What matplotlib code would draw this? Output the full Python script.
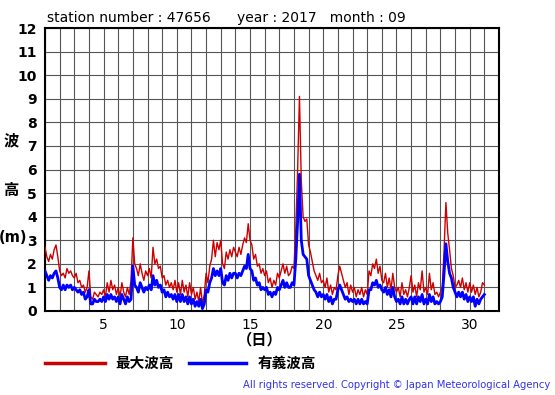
import numpy as np
import matplotlib
matplotlib.use("Agg")
import matplotlib.pyplot as plt
from matplotlib.lines import Line2D

plt.rcParams['font.family'] = ['DejaVu Sans', 'Noto Sans CJK JP']

# 3-hourly values, one row per day (00,03,...,21h), Sept 1..30, plus Oct 1 00h
max_wave = [
    [2.7, 2.3, 2.1, 2.4, 2.2, 2.6, 2.8, 2.3],
    [1.7, 1.5, 1.6, 1.4, 1.8, 1.6, 1.7, 1.5],
    [1.4, 1.6, 1.2, 1.3, 1.0, 1.1, 0.8, 1.0],
    [1.7, 0.6, 0.5, 0.8, 0.7, 0.6, 0.8, 0.7],
    [0.9, 0.6, 1.2, 0.8, 1.3, 0.9, 1.1, 0.7],
    [1.0, 0.6, 1.2, 0.8, 0.6, 1.0, 0.7, 1.3],
    [3.1, 2.0, 1.8, 1.5, 2.0, 1.6, 1.3, 1.7],
    [1.5, 1.8, 1.4, 2.7, 2.0, 2.2, 1.8, 1.9],
    [1.4, 1.5, 1.1, 1.3, 1.0, 1.2, 0.9, 1.3],
    [0.8, 1.2, 0.7, 1.3, 0.8, 1.1, 0.6, 1.2],
    [0.7, 1.0, 0.5, 0.8, 0.4, 1.0, 0.3, 0.7],
    [1.6, 1.2, 1.9, 2.2, 3.0, 2.3, 2.9, 2.6],
    [3.0, 2.0, 1.8, 2.5, 2.2, 2.6, 2.3, 2.7],
    [2.5, 2.3, 2.7, 2.4, 2.8, 3.1, 2.9, 3.7],
    [3.0, 2.8, 2.2, 2.4, 1.9, 2.0, 1.6, 1.8],
    [1.5, 1.7, 1.2, 1.4, 1.0, 1.3, 1.1, 1.6],
    [1.4, 1.7, 2.0, 1.6, 1.9, 1.5, 1.6, 1.9],
    [1.8, 3.5, 6.0, 9.1, 5.5, 4.0, 3.8, 3.9],
    [2.8, 2.5, 2.1, 1.7, 1.5, 1.3, 1.6, 1.2],
    [1.3, 1.0, 1.4, 0.8, 1.1, 0.7, 1.0, 0.9],
    [1.5, 1.9, 1.6, 1.3, 1.0, 1.2, 0.7, 1.1],
    [0.8, 1.0, 0.6, 0.9, 0.7, 1.0, 0.6, 0.9],
    [0.7, 1.7, 1.5, 2.0, 1.8, 2.2, 1.6, 1.9],
    [1.3, 1.2, 1.6, 1.0, 1.4, 0.9, 1.6, 1.0],
    [0.8, 1.0, 0.6, 1.2, 0.7, 0.9, 0.6, 1.0],
    [1.5, 0.8, 1.1, 0.6, 1.2, 0.9, 1.7, 0.8],
    [1.0, 0.7, 1.6, 0.9, 1.2, 0.7, 0.8, 0.6],
    [0.8, 1.0, 2.6, 4.6, 3.3, 2.6, 1.8, 1.5],
    [1.0, 1.1, 1.3, 1.0, 1.4, 0.9, 1.2, 0.8],
    [1.2, 0.8, 1.1, 0.7, 1.0, 0.6, 0.8, 1.2],
    [1.1],
]

sig_wave = [
    [1.7, 1.5, 1.3, 1.5, 1.4, 1.6, 1.7, 1.4],
    [1.0, 0.9, 1.1, 0.9, 1.1, 1.0, 1.1, 0.9],
    [1.0, 0.9, 0.8, 0.9, 0.7, 0.8, 0.5, 0.6],
    [0.9, 0.3, 0.3, 0.5, 0.4, 0.4, 0.5, 0.4],
    [0.6, 0.4, 0.7, 0.5, 0.7, 0.5, 0.6, 0.4],
    [0.6, 0.3, 0.7, 0.5, 0.3, 0.6, 0.4, 0.5],
    [1.9, 1.1, 1.0, 0.8, 1.2, 1.0, 0.8, 1.0],
    [0.9, 1.1, 0.9, 1.5, 1.1, 1.3, 1.0, 1.1],
    [0.8, 0.9, 0.6, 0.8, 0.6, 0.7, 0.5, 0.7],
    [0.4, 0.7, 0.4, 0.7, 0.4, 0.6, 0.3, 0.6],
    [0.3, 0.5, 0.2, 0.4, 0.2, 0.5, 0.1, 0.3],
    [0.9, 0.8, 1.2, 1.4, 1.8, 1.5, 1.7, 1.5],
    [1.8, 1.2, 1.1, 1.5, 1.3, 1.6, 1.4, 1.6],
    [1.6, 1.4, 1.6, 1.5, 1.7, 1.9, 1.8, 2.4],
    [1.8, 1.7, 1.3, 1.4, 1.1, 1.2, 0.9, 1.0],
    [0.9, 1.0, 0.7, 0.8, 0.6, 0.8, 0.7, 1.0],
    [0.9, 1.1, 1.3, 1.0, 1.2, 1.0, 1.0, 1.2],
    [1.1, 2.2, 3.8, 5.8, 3.0, 2.4, 2.3, 2.2],
    [1.5, 1.3, 1.1, 0.9, 0.8, 0.6, 0.8, 0.6],
    [0.7, 0.5, 0.7, 0.4, 0.6, 0.3, 0.5, 0.5],
    [0.9, 1.1, 0.9, 0.7, 0.5, 0.6, 0.4, 0.5],
    [0.4, 0.5, 0.3, 0.5, 0.3, 0.5, 0.3, 0.4],
    [0.3, 0.9, 0.9, 1.2, 1.1, 1.3, 1.0, 1.1],
    [0.9, 0.8, 1.0, 0.7, 0.9, 0.6, 1.0, 0.6],
    [0.4, 0.5, 0.3, 0.6, 0.3, 0.5, 0.3, 0.5],
    [0.6, 0.3, 0.6, 0.3, 0.6, 0.4, 0.7, 0.3],
    [0.5, 0.3, 0.7, 0.4, 0.6, 0.3, 0.4, 0.3],
    [0.4, 0.6, 1.6, 2.85, 2.1, 1.6, 1.4, 1.0],
    [0.8, 0.6, 0.8, 0.6, 0.8, 0.5, 0.7, 0.4],
    [0.6, 0.4, 0.6, 0.2, 0.5, 0.3, 0.5, 0.6],
    [0.7],
]

xtick_vals = [5, 10, 15, 20, 25, 30]
ytick_vals = list(range(0, 13))

ymax = np.concatenate([np.array(d, float) for d in max_wave])
ysig = np.concatenate([np.array(d, float) for d in sig_wave])
x = 1 + np.arange(len(ymax)) / 8.0

fig = plt.figure(figsize=(5.55, 3.95), dpi=100)
ax = fig.add_axes([45 / 555, (395 - 311) / 395, 454 / 555, 283 / 395])

ax.plot(x, ymax, color='#cc0000', lw=1.0, zorder=3)
ax.plot(x, ysig, color='#0000ff', lw=2.0, zorder=4)

ax.set_xlim(1, 32)
ax.set_ylim(0, 12)
ax.set_xticks(range(1, 33), minor=True)
ax.set_xticks(xtick_vals)
ax.set_yticks(ytick_vals)
ax.grid(which='both', axis='x', color='#555555', lw=0.8)
ax.grid(which='major', axis='y', color='#555555', lw=0.8)
ax.tick_params(which='both', length=0)
ax.tick_params(axis='x', labelsize=10, pad=5)
ax.tick_params(axis='y', labelsize=10, pad=6)
for lbl in ax.get_yticklabels():
    lbl.set_fontweight('bold')
for s in ax.spines.values():
    s.set_linewidth(1.5)

fig.text(47 / 555, 1 - 22 / 395, 'station number : 47656      year : 2017   month : 09',
         fontsize=10, ha='left', va='baseline')

jp = ['Noto Sans CJK JP', 'DejaVu Sans']
fig.text(11 / 555, 1 - 140 / 395, '波', fontsize=11, fontweight='bold', family=jp,
         ha='center', va='center')
fig.text(11 / 555, 1 - 190 / 395, '高', fontsize=11, fontweight='bold', family=jp,
         ha='center', va='center')
fig.text(13 / 555, 1 - 238 / 395, '(m)', fontsize=10.5, fontweight='bold',
         ha='center', va='center')
fig.text(260 / 555, 1 - 339 / 395, '（日）', fontsize=11, fontweight='bold', family=jp,
         ha='center', va='center')

fig.add_artist(Line2D([45 / 555, 105 / 555], [1 - 363 / 395] * 2, color='#cc0000', lw=2.5))
fig.text(115 / 555, 1 - 363 / 395, '最大波高', fontsize=10.5, fontweight='bold', family=jp,
         ha='left', va='center')
fig.add_artist(Line2D([189 / 555, 246 / 555], [1 - 363 / 395] * 2, color='#0000ff', lw=2.5))
fig.text(258 / 555, 1 - 363 / 395, '有義波高', fontsize=10.5, fontweight='bold', family=jp,
         ha='left', va='center')

fig.text(550 / 555, 1 - 385 / 395,
         'All rights reserved. Copyright \u00a9 Japan Meteorological Agency',
         fontsize=7.2, color='#3333ee', ha='right', va='center')

fig.savefig('out.png', dpi=100)
